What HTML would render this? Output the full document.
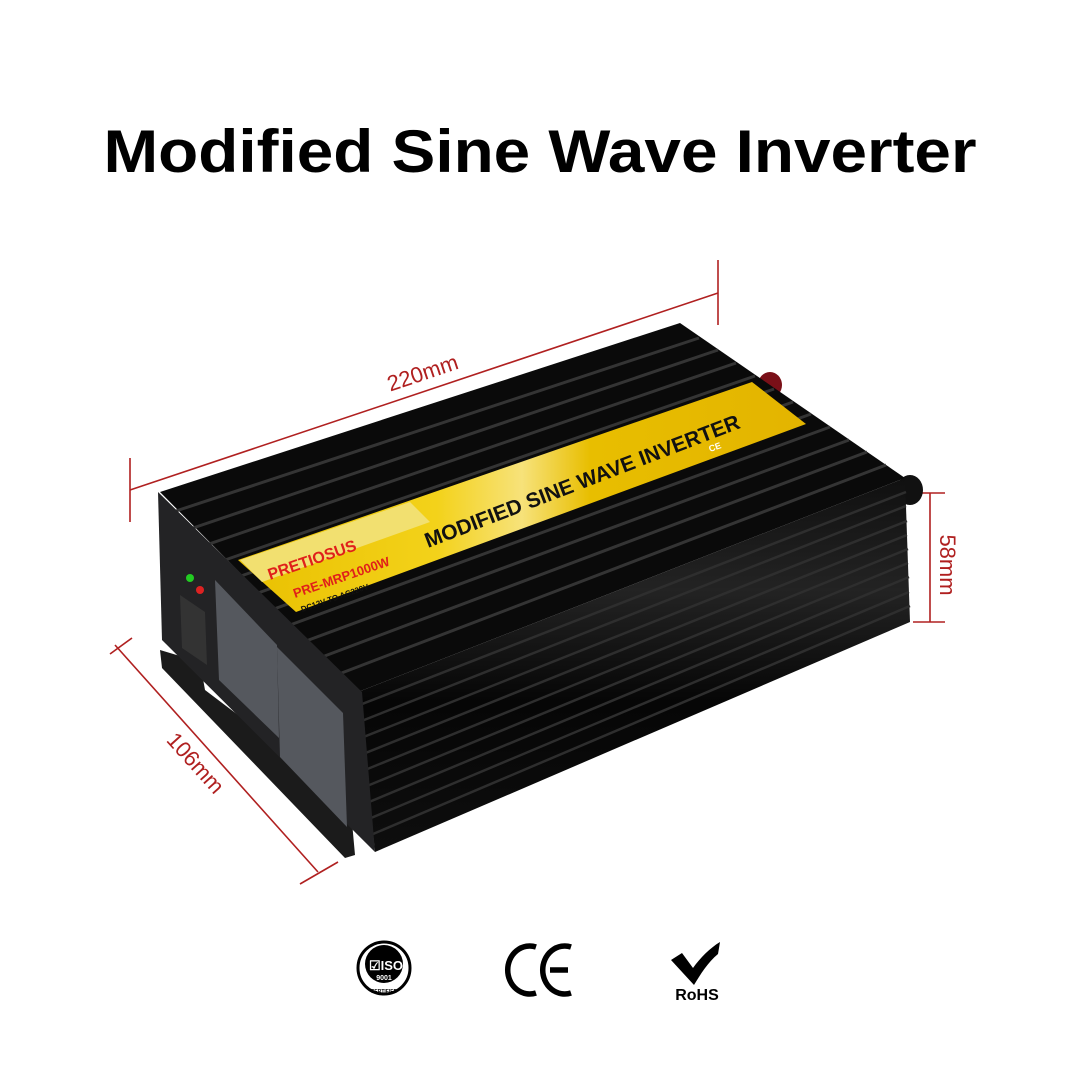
<!DOCTYPE html>
<html><head><meta charset="utf-8"><style>
html,body{margin:0;padding:0;background:#fff}
svg{display:block}
</style></head><body>
<svg width="1080" height="1080" viewBox="0 0 1080 1080" xmlns="http://www.w3.org/2000/svg">
<defs>
<linearGradient id="side" x1="0" y1="0" x2="0" y2="1">
<stop offset="0" stop-color="#101010"/><stop offset="0.3" stop-color="#232323"/><stop offset="0.6" stop-color="#060606"/><stop offset="1" stop-color="#0e0e0e"/></linearGradient>
<linearGradient id="lab" x1="0" y1="0" x2="1" y2="0">
<stop offset="0" stop-color="#e9c000"/><stop offset="0.35" stop-color="#f3d21a"/><stop offset="0.5" stop-color="#f7e27a"/><stop offset="0.62" stop-color="#e8be00"/><stop offset="1" stop-color="#e3b400"/></linearGradient>
</defs>
<rect width="1080" height="1080" fill="#fff"/>
<text x="540" y="172" text-anchor="middle" font-family="Liberation Sans, sans-serif" font-weight="bold" font-size="60" textLength="873" lengthAdjust="spacingAndGlyphs" fill="#000">Modified Sine Wave Inverter</text>

<g stroke="#b02020" stroke-width="1.6" fill="none">
<line x1="130" y1="490" x2="718" y2="293"/>
<line x1="130" y1="458" x2="130" y2="522"/>
<line x1="718" y1="260" x2="718" y2="325"/>
<line x1="930" y1="493" x2="930" y2="622"/>
<line x1="913" y1="493" x2="945" y2="493"/>
<line x1="913" y1="622" x2="945" y2="622"/>
<line x1="115" y1="645" x2="318" y2="872"/>
<line x1="110" y1="654" x2="132" y2="638"/>
<line x1="300" y1="884" x2="338" y2="862"/>
</g>
<g fill="#b02020" font-family="Liberation Sans, sans-serif" font-size="22">
<text transform="translate(425,380) rotate(-18.5)" text-anchor="middle">220mm</text>
<text transform="translate(940,565) rotate(90)" text-anchor="middle">58mm</text>
<text transform="translate(190,768) rotate(48)" text-anchor="middle">106mm</text>
</g>

<polygon points="160,650 200,662 205,690 350,800 355,855 345,858 162,668" fill="#1b1b1b"/>
<ellipse cx="770" cy="385" rx="12" ry="13" fill="#7a1018"/>
<ellipse cx="910" cy="490" rx="13" ry="15" fill="#111"/>
<polygon points="160,492 680,323 905,478 358,692" fill="#0a0a0a"/>
<g stroke="#343434" stroke-width="3">
<line x1="176" y1="511" x2="699" y2="338"/><line x1="193" y1="528" x2="718" y2="350"/>
<line x1="209" y1="544" x2="736" y2="363"/><line x1="225" y1="560" x2="755" y2="376"/>
<line x1="241" y1="576" x2="774" y2="389"/><line x1="258" y1="593" x2="793" y2="402"/>
<line x1="274" y1="609" x2="811" y2="414"/><line x1="290" y1="625" x2="830" y2="427"/>
<line x1="306" y1="641" x2="849" y2="440"/><line x1="322" y1="657" x2="867" y2="452"/>
<line x1="339" y1="674" x2="886" y2="465"/>
</g>
<polygon points="358,692 905,478 910,622 375,852" fill="url(#side)"/>
<g stroke="#2e2e2e" stroke-width="2.5">
<line x1="357" y1="706" x2="906" y2="492"/><line x1="359" y1="722" x2="906" y2="506"/>
<line x1="361" y1="738" x2="907" y2="521"/><line x1="363" y1="754" x2="907" y2="535"/>
<line x1="365" y1="770" x2="908" y2="549"/><line x1="367" y1="786" x2="908" y2="563"/>
<line x1="369" y1="802" x2="909" y2="577"/><line x1="371" y1="818" x2="909" y2="592"/>
<line x1="373" y1="834" x2="910" y2="606"/>
</g>
<polygon points="158,492 362,692 375,852 162,640" fill="#232325"/>
<polygon points="215,580 277,645 279,738 219,680" fill="#55585e"/>
<polygon points="277,647 343,713 347,827 280,757" fill="#55585e"/>
<polygon points="180,595 205,612 207,665 182,648" fill="#333"/>
<circle cx="190" cy="578" r="4" fill="#2c2"/><circle cx="200" cy="590" r="4" fill="#d22"/>
<polygon points="238,560 752,382 806,424 296,612" fill="url(#lab)"/>
<polygon points="240,560 410,502 430,522 262,582" fill="#f2e070"/>
<g font-family="Liberation Sans, sans-serif" font-weight="bold">
<text transform="translate(270,580) rotate(-19)" font-size="16" fill="#e0201a">PRETIOSUS</text>
<text transform="translate(428,548) rotate(-21)" font-size="21" fill="#111">MODIFIED SINE WAVE INVERTER</text>
<text transform="translate(295,598) rotate(-19)" font-size="13" fill="#e0201a">PRE-MRP1000W</text>
<text transform="translate(302,612) rotate(-19)" font-size="8" fill="#111">DC12V TO AC220V</text>
<text transform="translate(710,452) rotate(-19)" font-size="9" fill="#fff">CE</text>
</g>

<circle cx="384" cy="968" r="26" fill="#fff" stroke="#000" stroke-width="3"/>
<circle cx="384" cy="964" r="19" fill="#000"/>
<text x="386" y="970" text-anchor="middle" font-family="Liberation Sans, sans-serif" font-weight="bold" font-size="13" fill="#fff">☑ISO</text>
<text x="384" y="980" text-anchor="middle" font-family="Liberation Sans, sans-serif" font-weight="bold" font-size="7" fill="#fff">9001</text>
<text x="384" y="993" text-anchor="middle" font-family="Liberation Sans, sans-serif" font-weight="bold" font-size="5" fill="#000">CERTIFIED</text>
<g fill="none" stroke="#000" stroke-width="5.5">
<path d="M536,947 A22,24 0 1 0 536,993"/>
<path d="M571,947 A22,24 0 1 0 571,993"/>
<line x1="550" y1="970" x2="568" y2="970"/>
</g>
<path d="M671,960 L682,953 L693,968 C700,958 710,948 720,942 L718,954 C708,962 700,975 694,985 Z" fill="#000"/>
<text x="697" y="1000" text-anchor="middle" font-family="Liberation Sans, sans-serif" font-weight="bold" font-size="16" fill="#000">RoHS</text>
</svg>
</body></html>
